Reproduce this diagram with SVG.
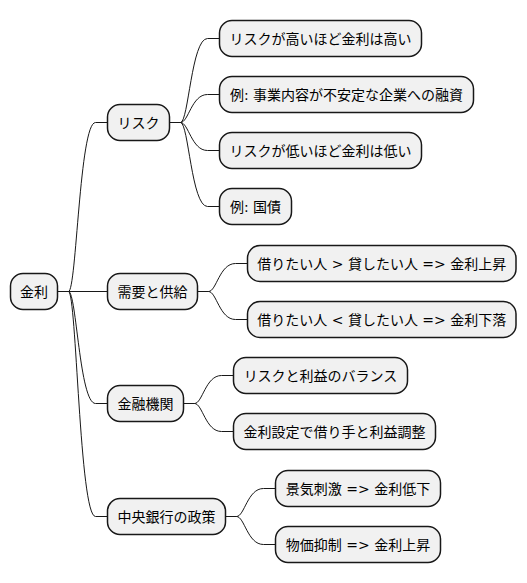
<svg xmlns="http://www.w3.org/2000/svg" width="527" height="583" viewBox="0 0 527 583">
<style>
.n rect{fill:#F1F1F1;stroke:#181818;stroke-width:1.5}
.n text{font-family:"DejaVu Sans","Noto Sans CJK JP",sans-serif;font-size:14px;fill:#000;text-anchor:middle}
#links path{fill:none;stroke:#181818;stroke-width:1}
</style>
<rect width="527" height="583" fill="#FFFFFF"/>
<g id="links">
<path d="M57.5,291.5 H68.5 C76.5,291.5 79.5,122.5 95.5,122.5 H107.5"/>
<path d="M57.5,291.5 H107.5"/>
<path d="M57.5,291.5 H68.5 C76.5,291.5 79.5,403.5 95.5,403.5 H107.5"/>
<path d="M57.5,291.5 H68.5 C76.5,291.5 79.5,516.5 95.5,516.5 H107.5"/>
<path d="M169.5,122.5 H180.5 C188.5,122.5 191.5,38.5 207.5,38.5 H219.5"/>
<path d="M169.5,122.5 H180.5 C188.5,122.5 191.5,94.5 207.5,94.5 H219.5"/>
<path d="M169.5,122.5 H180.5 C188.5,122.5 191.5,150.5 207.5,150.5 H219.5"/>
<path d="M169.5,122.5 H180.5 C188.5,122.5 191.5,206.5 207.5,206.5 H219.5"/>
<path d="M197.5,291.5 H208.5 C216.5,291.5 219.5,263.5 235.5,263.5 H247.5"/>
<path d="M197.5,291.5 H208.5 C216.5,291.5 219.5,319.5 235.5,319.5 H247.5"/>
<path d="M183.5,403.5 H194.5 C202.5,403.5 205.5,375.5 221.5,375.5 H233.5"/>
<path d="M183.5,403.5 H194.5 C202.5,403.5 205.5,431.5 221.5,431.5 H233.5"/>
<path d="M225.5,516.5 H236.5 C244.5,516.5 247.5,488.5 263.5,488.5 H275.5"/>
<path d="M225.5,516.5 H236.5 C244.5,516.5 247.5,544.5 263.5,544.5 H275.5"/>
</g>
<g id="root" class="n"><rect x="10.5" y="273.5" width="47" height="36" rx="12.5"/><text x="34" y="296.5">金利</text></g>
<g id="risk" class="n"><rect x="107.5" y="104.5" width="62" height="36" rx="12.5"/><text x="138.5" y="127.5">リスク</text></g>
<g id="risk1" class="n"><rect x="219.5" y="20.5" width="202" height="36" rx="12.5"/><text x="320.5" y="43.5">リスクが高いほど金利は高い</text></g>
<g id="risk2" class="n"><rect x="219.5" y="76.5" width="254" height="36" rx="12.5"/><text x="346.5" y="99.5">例: 事業内容が不安定な企業への融資</text></g>
<g id="risk3" class="n"><rect x="219.5" y="132.5" width="202" height="36" rx="12.5"/><text x="320.5" y="155.5">リスクが低いほど金利は低い</text></g>
<g id="risk4" class="n"><rect x="219.5" y="188.5" width="72" height="36" rx="12.5"/><text x="255.5" y="211.5">例: 国債</text></g>
<g id="supply" class="n"><rect x="107.5" y="273.5" width="90" height="36" rx="12.5"/><text x="152.5" y="296.5">需要と供給</text></g>
<g id="supply1" class="n"><rect x="247.5" y="245.5" width="268.5" height="36" rx="12.5"/><text x="381.75" y="268.5">借りたい人 &gt; 貸したい人 =&gt; 金利上昇</text></g>
<g id="supply2" class="n"><rect x="247.5" y="301.5" width="268.5" height="36" rx="12.5"/><text x="381.75" y="324.5">借りたい人 &lt; 貸したい人 =&gt; 金利下落</text></g>
<g id="bank" class="n"><rect x="107.5" y="385.5" width="76" height="36" rx="12.5"/><text x="145.5" y="408.5">金融機関</text></g>
<g id="bank1" class="n"><rect x="233.5" y="357.5" width="174" height="36" rx="12.5"/><text x="320.5" y="380.5">リスクと利益のバランス</text></g>
<g id="bank2" class="n"><rect x="233.5" y="413.5" width="202" height="36" rx="12.5"/><text x="334.5" y="436.5">金利設定で借り手と利益調整</text></g>
<g id="cb" class="n"><rect x="107.5" y="498.5" width="118" height="36" rx="12.5"/><text x="166.5" y="521.5">中央銀行の政策</text></g>
<g id="cb1" class="n"><rect x="275.5" y="470.5" width="165" height="36" rx="12.5"/><text x="358" y="493.5">景気刺激 =&gt; 金利低下</text></g>
<g id="cb2" class="n"><rect x="275.5" y="526.5" width="165" height="36" rx="12.5"/><text x="358" y="549.5">物価抑制 =&gt; 金利上昇</text></g>
</svg>
